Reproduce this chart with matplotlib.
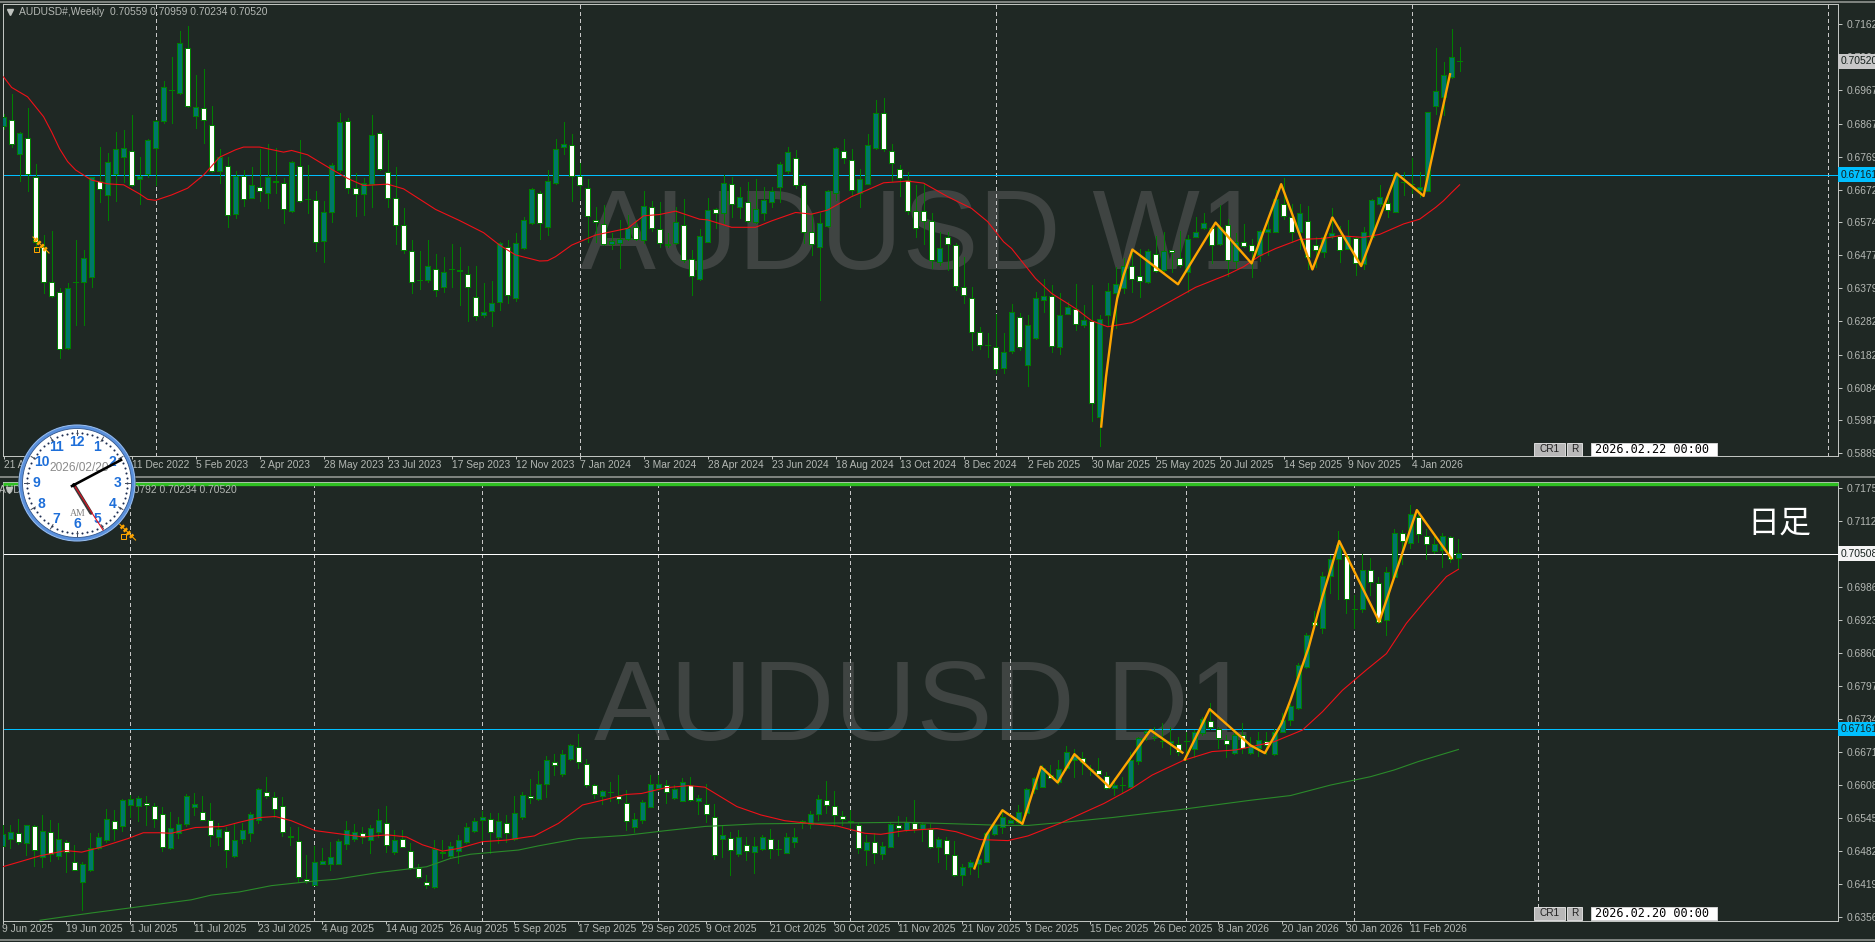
import numpy as np
import matplotlib
matplotlib.use('Agg')
import matplotlib.pyplot as plt
from matplotlib.patches import Circle, Rectangle

# prices below are in 1e-4 units
wk_open = [6860,6878,6777,6825,6710,6502,6397,6369,6202,6398,
6398,6413,6697,6657,6718,6770,6785,6702,6718,6795,
6876,6968,6959,7093,6890,6914,6864,6728,6743,6598,
6713,6648,6681,6661,6698,6692,6609,6743,6645,6641,
6520,6604,6730,6876,6678,6660,6688,6840,6724,6648,
6567,6491,6403,6405,6437,6384,6437,6434,6421,6354,
6300,6312,6337,6502,6349,6498,6574,6663,6562,6692,
6798,6804,6713,6677,6581,6569,6509,6512,6525,6562,
6522,6621,6556,6510,6512,6567,6466,6407,6517,6614,
6601,6689,6621,6635,6577,6601,6634,6679,6727,6767,
6686,6546,6502,6565,6661,6785,6761,6663,6688,6794,
6899,6785,6734,6700,6609,6609,6579,6458,6532,6508,
6384,6351,6250,6211,6205,6143,6194,6295,6152,6232,
6343,6356,6205,6304,6319,6271,6283,5997,6300,6366,
6381,6446,6416,6398,6481,6433,6493,6470,6426,6532,
6557,6557,6509,6567,6460,6516,6507,6478,6545,6547,
6629,6591,6545,6580,6507,6488,6534,6534,6497,6527,
6451,6532,6628,6633,6606,6693,6688,6671,6669,6920,
6947,7006,7052]
wk_close = [6888,6806,6840,6718,6517,6397,6356,6200,6379,6398,
6468,6710,6674,6753,6793,6796,6686,6713,6818,6874,
6975,6968,7108,6921,6917,6878,6727,6768,6596,6713,
6644,6685,6668,6708,6694,6614,6753,6639,6645,6516,
6604,6744,6871,6676,6658,6691,6835,6732,6647,6567,
6494,6399,6403,6444,6374,6428,6437,6430,6383,6296,
6309,6336,6512,6359,6512,6581,6673,6574,6698,6793,
6808,6713,6686,6595,6576,6510,6520,6525,6557,6526,
6622,6557,6512,6507,6577,6462,6417,6533,6610,6602,
6692,6629,6651,6579,6613,6640,6669,6747,6783,6685,
6546,6509,6572,6669,6796,6765,6670,6702,6805,6900,
6793,6750,6706,6609,6558,6579,6463,6500,6510,6386,
6358,6248,6210,6211,6141,6189,6309,6205,6269,6349,
6355,6207,6301,6325,6273,6284,6038,6287,6372,6391,
6445,6406,6400,6491,6431,6491,6487,6448,6526,6545,
6572,6507,6562,6463,6515,6504,6491,6550,6556,6643,
6593,6547,6601,6473,6494,6532,6544,6494,6534,6453,
6547,6640,6651,6610,6718,6693,6688,6681,6901,6963,
7012,7066,7052]
wk_high = [6897,6954,6843,6915,6748,6537,6549,6379,6394,6522,
6493,6710,6798,6780,6843,6850,6892,6770,6823,6878,
6993,7066,7142,7157,7011,7029,6919,6793,6770,6727,
6730,6740,6793,6806,6795,6705,6757,6818,6745,6668,
6638,6752,6899,6883,6720,6705,6894,6846,6820,6740,
6616,6522,6491,6522,6480,6473,6510,6502,6445,6446,
6394,6400,6517,6522,6542,6592,6676,6669,6730,6823,
6872,6838,6750,6703,6619,6626,6542,6582,6596,6582,
6668,6638,6634,6542,6621,6643,6493,6554,6646,6616,
6715,6710,6681,6695,6702,6681,6681,6755,6797,6790,
6691,6601,6601,6671,6798,6823,6793,6733,6838,6937,
6943,6808,6745,6723,6686,6691,6601,6547,6547,6512,
6473,6384,6265,6245,6302,6245,6332,6307,6299,6369,
6408,6389,6364,6339,6391,6329,6389,6299,6394,6443,
6468,6493,6497,6497,6535,6547,6493,6550,6537,6592,
6601,6562,6626,6585,6542,6570,6524,6552,6587,6671,
6705,6629,6629,6623,6532,6537,6616,6564,6582,6530,
6562,6643,6686,6651,6722,6725,6765,6725,6897,7093,
7051,7148,7096]
wk_low = [6853,6798,6697,6669,6493,6364,6354,6171,6200,6270,
6270,6384,6634,6583,6638,6695,6682,6628,6710,6686,
6870,6870,6955,6917,6855,6810,6725,6692,6562,6588,
6624,6646,6638,6618,6661,6574,6605,6636,6601,6491,
6458,6576,6725,6663,6593,6596,6619,6730,6619,6510,
6485,6364,6378,6398,6357,6369,6382,6329,6282,6286,
6294,6268,6314,6336,6342,6497,6570,6524,6537,6689,
6778,6638,6644,6517,6517,6507,6495,6440,6522,6522,
6514,6550,6502,6502,6509,6458,6359,6405,6517,6557,
6574,6591,6588,6576,6574,6581,6619,6636,6722,6678,
6512,6478,6344,6562,6641,6750,6656,6621,6688,6791,
6785,6698,6654,6599,6532,6510,6440,6448,6433,6374,
6336,6196,6198,6176,6128,6128,6188,6197,6088,6230,
6309,6191,6184,6302,6255,6265,5984,5912,6270,6260,
6364,6369,6354,6396,6428,6428,6428,6443,6369,6530,
6556,6453,6507,6416,6438,6502,6413,6461,6478,6545,
6586,6517,6497,6435,6443,6471,6527,6458,6495,6418,
6435,6527,6623,6592,6604,6656,6661,6651,6668,6897,
6892,7004,7023]

wk_ma_x = [0,1,3,5,6,7,8,9,11,13,15,17,18,19,21,23,25,27,29,30,32,35,36,38,41,43,45,48,50,54,57,60,62,64,67,68,69,71,74,78,
80,82,84,87,88,91,94,96,99,101,103,106,108,110,113,115,118,121,123,125,126,129,131,134,136,138,141,142,145,149,153,155,
157,159,162,165,167,170,172,175,177,179,180,181,182]
wk_ma = [7006,6975,6947,6888,6843,6793,6755,6730,6700,6689,6686,6659,6643,6640,6656,6676,6715,6768,6790,6798,6798,6783,6788,6775,6732,6705,6684,6688,6674,6613,6580,6544,6507,6478,6460,6461,6473,6507,6537,6557,
6594,6598,6608,6584,6582,6560,6560,6579,6604,6599,6611,6651,6671,6692,6697,6691,6651,6616,6577,6517,6497,6408,6364,6319,6283,6265,6277,6289,6329,6382,6420,6443,
6475,6497,6524,6527,6535,6530,6539,6570,6584,6619,6639,6663,6686]

wk_zz_x = [137.2,137.8,138.6,139.2,140,141.1,146.8,151.5,156,159.7,163.6,166.1,169.7,174.1,177.5,180.8]
wk_zz = [5969,6116,6265,6349,6418,6494,6391,6574,6453,6688,6435,6589,6445,6720,6653,7014]

d_open = [6493,6507,6517,6498,6531,6471,6519,6473,6501,6463,
6424,6447,6488,6505,6541,6531,6571,6570,6575,6570,
6554,6489,6518,6534,6568,6558,6543,6509,6522,6474,
6507,6518,6542,6596,6587,6570,6512,6503,6430,6419,
6458,6459,6458,6496,6507,6517,6505,6520,6537,6482,
6507,6484,6451,6424,6414,6480,6473,6484,6501,6522,
6543,6545,6510,6537,6507,6549,6589,6583,6612,6653,
6631,6658,6682,6650,6610,6589,6596,6589,6575,6529,
6543,6568,6604,6609,6584,6579,6609,6579,6573,6549,
6507,6508,6477,6495,6482,6487,6507,6487,6480,6501,
6541,6535,6553,6580,6570,6550,6541,6533,6486,6501,
6477,6491,6533,6523,6537,6526,6525,6491,6505,6475,
6438,6453,6459,6463,6515,6529,6537,6539,6555,6601,
6606,6629,6614,6641,6657,6661,6640,6638,6627,6603,
6610,6606,6655,6708,6701,6693,6690,6687,6694,6677,
6708,6731,6717,6695,6671,6704,6670,6679,6693,6669,
6711,6733,6757,6835,6921,6908,7009,7040,7046,6946,
6945,7019,6995,6925,7007,7091,7072,7121,7085,7055,
7058,7083,7042]
d_close = [6515,6520,6500,6532,6486,6522,6477,6507,6481,6447,
6458,6488,6510,6545,6526,6580,6582,6584,6571,6545,
6490,6528,6534,6588,6572,6543,6514,6526,6486,6505,
6523,6553,6601,6589,6564,6519,6510,6433,6426,6463,
6465,6471,6502,6523,6519,6510,6528,6543,6494,6504,
6491,6451,6433,6419,6487,6482,6493,6505,6529,6540,
6549,6519,6541,6518,6555,6591,6584,6612,6656,6647,
6668,6685,6653,6610,6592,6597,6596,6582,6540,6545,
6576,6612,6612,6596,6601,6615,6580,6585,6554,6475,
6513,6485,6510,6483,6493,6510,6487,6487,6510,6510,
6538,6553,6582,6571,6551,6545,6538,6488,6501,6479,
6493,6534,6528,6539,6526,6534,6491,6507,6477,6437,
6453,6463,6467,6517,6533,6549,6542,6558,6601,6622,
6641,6622,6639,6673,6666,6653,6640,6631,6603,6609,
6610,6657,6699,6713,6701,6693,6693,6673,6694,6711,
6736,6720,6698,6687,6704,6680,6685,6696,6685,6711,
6733,6760,6838,6895,6915,7009,7040,7067,6964,6946,
7020,6996,6921,7015,7091,7075,7126,7088,7069,7069,
7084,7041,7052]
d_high = [6533,6533,6545,6533,6533,6552,6543,6536,6504,6494,
6463,6518,6517,6563,6561,6582,6590,6588,6588,6574,
6568,6557,6549,6592,6594,6588,6575,6536,6529,6536,
6536,6558,6604,6624,6596,6587,6529,6529,6475,6493,
6489,6501,6507,6541,6535,6529,6533,6563,6569,6523,
6523,6498,6459,6437,6505,6504,6501,6514,6537,6547,
6559,6556,6555,6552,6588,6596,6620,6635,6664,6668,
6676,6687,6706,6659,6612,6599,6614,6628,6599,6555,
6580,6628,6628,6619,6609,6622,6624,6590,6611,6572,
6533,6520,6523,6510,6510,6514,6525,6504,6517,6528,
6542,6560,6590,6617,6598,6559,6561,6536,6514,6517,
6501,6536,6550,6549,6580,6536,6534,6510,6510,6502,
6459,6466,6472,6520,6536,6563,6547,6571,6603,6625,
6647,6648,6657,6684,6677,6673,6647,6660,6634,6622,
6625,6673,6701,6714,6720,6727,6720,6701,6711,6714,
6739,6765,6720,6704,6714,6728,6701,6710,6710,6717,
6746,6763,6843,6899,6941,7015,7048,7094,7051,6972,
7050,7042,7007,7025,7097,7096,7144,7134,7097,7090,
7090,7085,7079]
d_low = [6493,6488,6496,6475,6455,6453,6464,6467,6443,6447,
6370,6445,6487,6501,6505,6522,6549,6540,6533,6529,
6484,6487,6508,6531,6552,6542,6493,6494,6453,6472,
6498,6503,6537,6584,6549,6512,6494,6424,6423,6418,
6458,6447,6458,6487,6503,6499,6480,6510,6482,6477,
6490,6449,6432,6413,6413,6469,6472,6461,6499,6520,
6504,6480,6499,6501,6505,6545,6574,6580,6587,6628,
6627,6657,6641,6606,6584,6573,6579,6574,6524,6520,
6536,6568,6599,6574,6582,6578,6578,6554,6539,6468,
6472,6437,6474,6466,6442,6485,6470,6475,6479,6491,
6528,6528,6542,6555,6531,6533,6526,6480,6456,6461,
6467,6490,6512,6521,6520,6502,6489,6463,6449,6435,
6418,6439,6433,6462,6514,6517,6536,6537,6552,6593,
6605,6622,6612,6638,6625,6630,6628,6630,6601,6590,
6596,6605,6649,6695,6695,6682,6669,6666,6657,6663,
6704,6717,6679,6662,6669,6671,6669,6665,6668,6666,
6710,6724,6754,6833,6911,6900,6975,6965,6938,6908,
6940,6972,6919,6895,7004,7032,7062,7074,7041,7053,
7026,7034,7023]

d_ma_x = [0,2.7,4.7,7.9,9.9,12.2,15.7,17.6,19.6,21.1,24.1,27.6,29.6,32.1,34.1,36.1,39.1,42.6,45.1,48.1,50.5,52.5,55,57,60,63,66.5,69.5,72.5,75,
77.9,79.9,82.9,85.8,87.8,91.8,94.8,97.8,101.3,104.3,107.8,109.8,112.8,116.8,119.2,122.2,125.7,128.2,132.2,137.7,141.2,143.7,147.6,151.2,154.1,
156,159,162.5,165,167.5,170.5,173,175.5,177.9,180.5,182]
d_ma = [6453,6465,6474,6484,6481,6490,6507,6518,6518,6517,6528,6530,6538,6547,6549,6541,6522,6515,6510,6514,6510,6495,6483,6488,6501,6504,6512,6536,6571,6580,
6591,6593,6604,6608,6605,6568,6552,6541,6535,6531,6517,6515,6522,6526,6520,6505,6503,6512,6536,6574,6603,6628,6656,6673,6676,
6682,6692,6714,6749,6790,6829,6860,6918,6962,7007,7021]
d_ma2_x = [4.7,7.9,11.2,16.2,23.6,26.1,29.6,33.6,39.1,41.6,47,53,56,58.5,64.5,67,72,
77.9,82.9,87.8,94.3,100.8,112.8,119.2,125.2,128.2,132.7,138.7,147.6,
156,161,166,171,174,177,182]
d_ma2 = [6351,6358,6365,6375,6390,6399,6405,6417,6426,6429,6442,6453,6469,6477,6485,6493,6507,
6513,6522,6530,6535,6536,6538,6535,6532,6532,6538,6547,6563,
6580,6589,6609,6625,6638,6654,6677]
d_zz_x = [121.5,123,125,127.5,129.8,131.9,134,138.4,143.5,147.5,147.65,147.8,150.9,156,157.8,159.9,161,163.3,165,167.1,172.1,176.8,181.1]
d_zz = [6450,6514,6561,6535,6644,6614,6668,6605,6714,6671,np.nan,6658,6754,6685,6670,6727,6771,6873,6969,7075,6921,7134,7042]

wk_labels = ['21 Aug 2022','16 Oct 2022','11 Dec 2022','5 Feb 2023','2 Apr 2023','28 May 2023','23 Jul 2023','17 Sep 2023',
             '12 Nov 2023','7 Jan 2024','3 Mar 2024','28 Apr 2024','23 Jun 2024','18 Aug 2024','13 Oct 2024','8 Dec 2024',
             '2 Feb 2025','30 Mar 2025','25 May 2025','20 Jul 2025','14 Sep 2025','9 Nov 2025','4 Jan 2026']
d_labels = ['9 Jun 2025','19 Jun 2025','1 Jul 2025','11 Jul 2025','23 Jul 2025','4 Aug 2025','14 Aug 2025','26 Aug 2025',
            '5 Sep 2025','17 Sep 2025','29 Sep 2025','9 Oct 2025','21 Oct 2025','30 Oct 2025','11 Nov 2025','21 Nov 2025',
            '3 Dec 2025','15 Dec 2025','26 Dec 2025','8 Jan 2026','20 Jan 2026','30 Jan 2026','11 Feb 2026']
wk_prices = [0.71620,0.70645,0.69670,0.68670,0.67695,0.66720,0.65745,0.64770,0.63795,0.62820,0.61820,0.60845,0.59870,0.58895]
d_prices = [0.71755,0.71125,0.70495,0.69865,0.69235,0.68605,0.67975,0.67345,0.66715,0.66085,0.65455,0.64825,0.64195,0.63565]
wk_seps = [19,72,124,176,228]
d_seps = [16,39,60,82,106,126,148,169,192]
level = 0.67161

BG = '#1f2824'
GREY = '#c0c4c0'
PX = 0.72  # one pixel, in points
W, H = 1875, 942
plt.rcParams['font.family'] = ['Liberation Sans', 'DejaVu Sans']

fig = plt.figure(figsize=(W / 100, H / 100), dpi=100, facecolor=BG)


def make_panel(left, top, right, bottom, bar0, ylims):
    ax = fig.add_axes([left / W, 1 - bottom / H, (right - left) / W, (bottom - top) / H], facecolor=BG)
    ax.set_xlim((left - bar0) / 8, (right - bar0) / 8)
    ax.set_ylim(*ylims)
    for s in ax.spines.values():
        s.set_color(GREY)
        s.set_linewidth(PX)
    ax.yaxis.tick_right()
    ax.tick_params(axis='both', colors=GREY, labelcolor='#b4b8b4', labelsize=7.4, length=3, width=PX, pad=3)
    ax.tick_params(axis='x', length=2, pad=0.6)
    return ax


def draw_candles(ax, o, h, l, c):
    o, h, l, c = [np.array(v) / 1e4 for v in (o, h, l, c)]
    x = np.arange(len(o))
    ax.vlines(x, l, h, color='#007f00', lw=PX, antialiased=False, zorder=3)
    up = c >= o
    ax.bar(x[up], (c - o)[up], bottom=o[up], width=0.56, color='#00776b', edgecolor='#008000',
           linewidth=PX, antialiased=False, zorder=4)
    ax.bar(x[~up], (o - c)[~up], bottom=c[~up], width=0.56, color='white', edgecolor='#008000',
           linewidth=PX, antialiased=False, zorder=4)


def price_tag(ax, price, fc):
    ax.text(1.0015, price, f'{price:.5f}', transform=ax.get_yaxis_transform(), fontsize=7.4, color='#15201c',
            va='center', ha='left', bbox=dict(facecolor=fc, edgecolor='none', pad=1.6), zorder=8, clip_on=False)


ax1 = make_panel(2.5, 3.7, 1838, 456.3, 3.6, (0.58807, 0.72233))
ax2 = make_panel(2.5, 481.7, 1838, 920.7, 2.4, (0.63501, 0.71882))

# watermarks sit behind the candles
ax1.text(580 / W, 1 - 269 / H, 'AUDUSD W1', transform=fig.transFigure, fontsize=82, color='#3f4442', zorder=1)
ax2.text(594 / W, 1 - 740 / H, 'AUDUSD D1', transform=fig.transFigure, fontsize=82, color='#3f4442', zorder=1)

for ax, seps in ((ax1, wk_seps), (ax2, d_seps)):
    for s in seps:
        ax.axvline(s, color='#c8c8c8', lw=PX, ls=(0, (3, 3)), antialiased=False, zorder=2)
    ax.axhline(level, color='#00bfff', lw=PX, antialiased=False, zorder=2.5)

ax2.axhline(0.70508, color='white', lw=PX, antialiased=False, zorder=2.5)

draw_candles(ax1, wk_open, wk_high, wk_low, wk_close)
draw_candles(ax2, d_open, d_high, d_low, d_close)

ax1.plot(wk_ma_x, np.array(wk_ma) / 1e4, color='#f01018', lw=0.8, zorder=5)
ax2.plot(d_ma2_x, np.array(d_ma2) / 1e4, color='#2a8a2a', lw=0.8, zorder=5)
ax2.plot(d_ma_x, np.array(d_ma) / 1e4, color='#f01018', lw=0.8, zorder=5)
ax1.plot(wk_zz_x, np.array(wk_zz) / 1e4, color='#ffa500', lw=1.7, zorder=6)
ax2.plot(d_zz_x, np.array(d_zz) / 1e4, color='#ffa500', lw=1.7, zorder=6)

ax1.set_xticks(np.arange(len(wk_labels)) * 8)
ax1.set_xticklabels(wk_labels, ha='left')
ax2.set_xticks(np.arange(len(d_labels)) * 8)
ax2.set_xticklabels(d_labels, ha='left')
ax1.set_yticks(wk_prices)
ax1.set_yticklabels([f'{v:.5f}' for v in wk_prices])
ax2.set_yticks(d_prices)
ax2.set_yticklabels([f'{v:.5f}' for v in d_prices])

price_tag(ax1, 0.70520, '#c8c8c8')
price_tag(ax1, level, '#00bfff')
price_tag(ax2, 0.70508, '#f4f4f4')
price_tag(ax2, level, '#00bfff')

# overlay in pixel coordinates for the terminal furniture and the clock
ov = fig.add_axes([0, 0, 1, 1], zorder=10)
ov.set_xlim(0, W)
ov.set_ylim(H, 0)
ov.axis('off')

ov.hlines([1.5, 477, 940], 0, W, color='#9a9e9a', lw=1.1, zorder=0.5)
ov.hlines(483.5, 2.5, 1838, color='#2fbf22', lw=2.4, zorder=0.5)

ov.text(19, 12, 'AUDUSD#,Weekly  0.70559 0.70959 0.70234 0.70520', color='#b4b8b4', fontsize=7.4, va='center', zorder=0.6)
ov.text(237, 490, 'AUDUSD#,Daily  0.70607 0.70792 0.70234 0.70520', color='#b4b8b4', fontsize=7.4, va='center', ha='right', zorder=0.6)
ov.plot([10, 9], [12, 490], 'v', color='#c0c4c0', ms=4, zorder=0.6)
ov.text(1747, 524, '日足', color='white', fontsize=23, va='center', family=['Noto Sans CJK JP', 'DejaVu Sans'])

for y0, stamp in ((443, '2026.02.22 00:00'), (907, '2026.02.20 00:00')):
    ov.add_patch(Rectangle((1534, y0), 31, 13, fc='#b8b8b8', ec='#d8d8d8', lw=PX))
    ov.add_patch(Rectangle((1567, y0), 15, 13, fc='#b8b8b8', ec='#d8d8d8', lw=PX))
    ov.add_patch(Rectangle((1591, y0), 126, 13, fc='white', ec='#d0d0d0', lw=PX))
    ov.text(1549.5, y0 + 6.5, 'CR1', color='#202020', fontsize=7.2, ha='center', va='center')
    ov.text(1574.5, y0 + 6.5, 'R', color='#202020', fontsize=7.2, ha='center', va='center')
    ov.text(1595, y0 + 6.5, stamp, color='black', fontsize=8.6, va='center', family='DejaVu Sans Mono')

# pencil icons
for ix, iy in ((41, 245), (127.5, 532)):
    ov.plot([ix - 6, ix + 6], [iy - 6, iy + 6], color='#ffa500', lw=3.5, ls=(0, (0.5, 0.4)))
    ov.plot([ix - 8, ix + 8], [iy - 8, iy + 8], color='#ffa500', lw=0.8)
    ov.add_patch(Rectangle((ix - 7, iy + 2), 5, 5, fc='none', ec='#ffa500', lw=PX))

# desktop clock
cx, cy = 77, 483
ov.add_patch(Circle((cx, cy), 59, fc='#1a3050', ec='none', alpha=0.6, zorder=2.5))
ov.add_patch(Circle((cx, cy), 58, fc='#5a90dc', ec='#9cc0ec', lw=PX, zorder=2.6))
ov.add_patch(Circle((cx, cy), 54.5, fc='white', ec='#30558c', lw=0.6, zorder=2.7))
ang = np.deg2rad(np.arange(60) * 6)
ov.scatter(cx + 50 * np.sin(ang), cy - 50 * np.cos(ang), s=2.2, color='#1c2c50', zorder=3, linewidths=0)
for n in range(1, 13):
    a = np.deg2rad(n * 30)
    ov.text(cx + 41 * np.sin(a), cy - 41 * np.cos(a), str(n), color='#1e6fd9', fontsize=10, fontweight='bold',
            ha='center', va='center', zorder=3)
    ov.plot([cx + 48 * np.sin(a), cx + 53 * np.sin(a)], [cy - 48 * np.cos(a), cy - 53 * np.cos(a)], color='#404858', lw=0.7, zorder=3)
ov.text(79, 468, '2026/02/20', color='#8a8a8a', fontsize=8.6, ha='center', va='center', zorder=4)
ov.text(78, 514, 'AM', color='#808080', fontsize=7, ha='center', va='center', family='Liberation Serif', zorder=4)
ov.plot([74, 91], [485, 513], color='#3a3a3a', lw=2.6, zorder=5, solid_capstyle='round')
ov.plot([72, 121], [486, 460], color='black', lw=1.9, zorder=6)
ov.plot([74, 103], [485, 530], color='#e01020', lw=0.8, zorder=7)
ov.add_patch(Circle((74, 485), 1.8, fc='black', ec='none', zorder=8))

fig.savefig('out.png', dpi=100, facecolor=BG)
